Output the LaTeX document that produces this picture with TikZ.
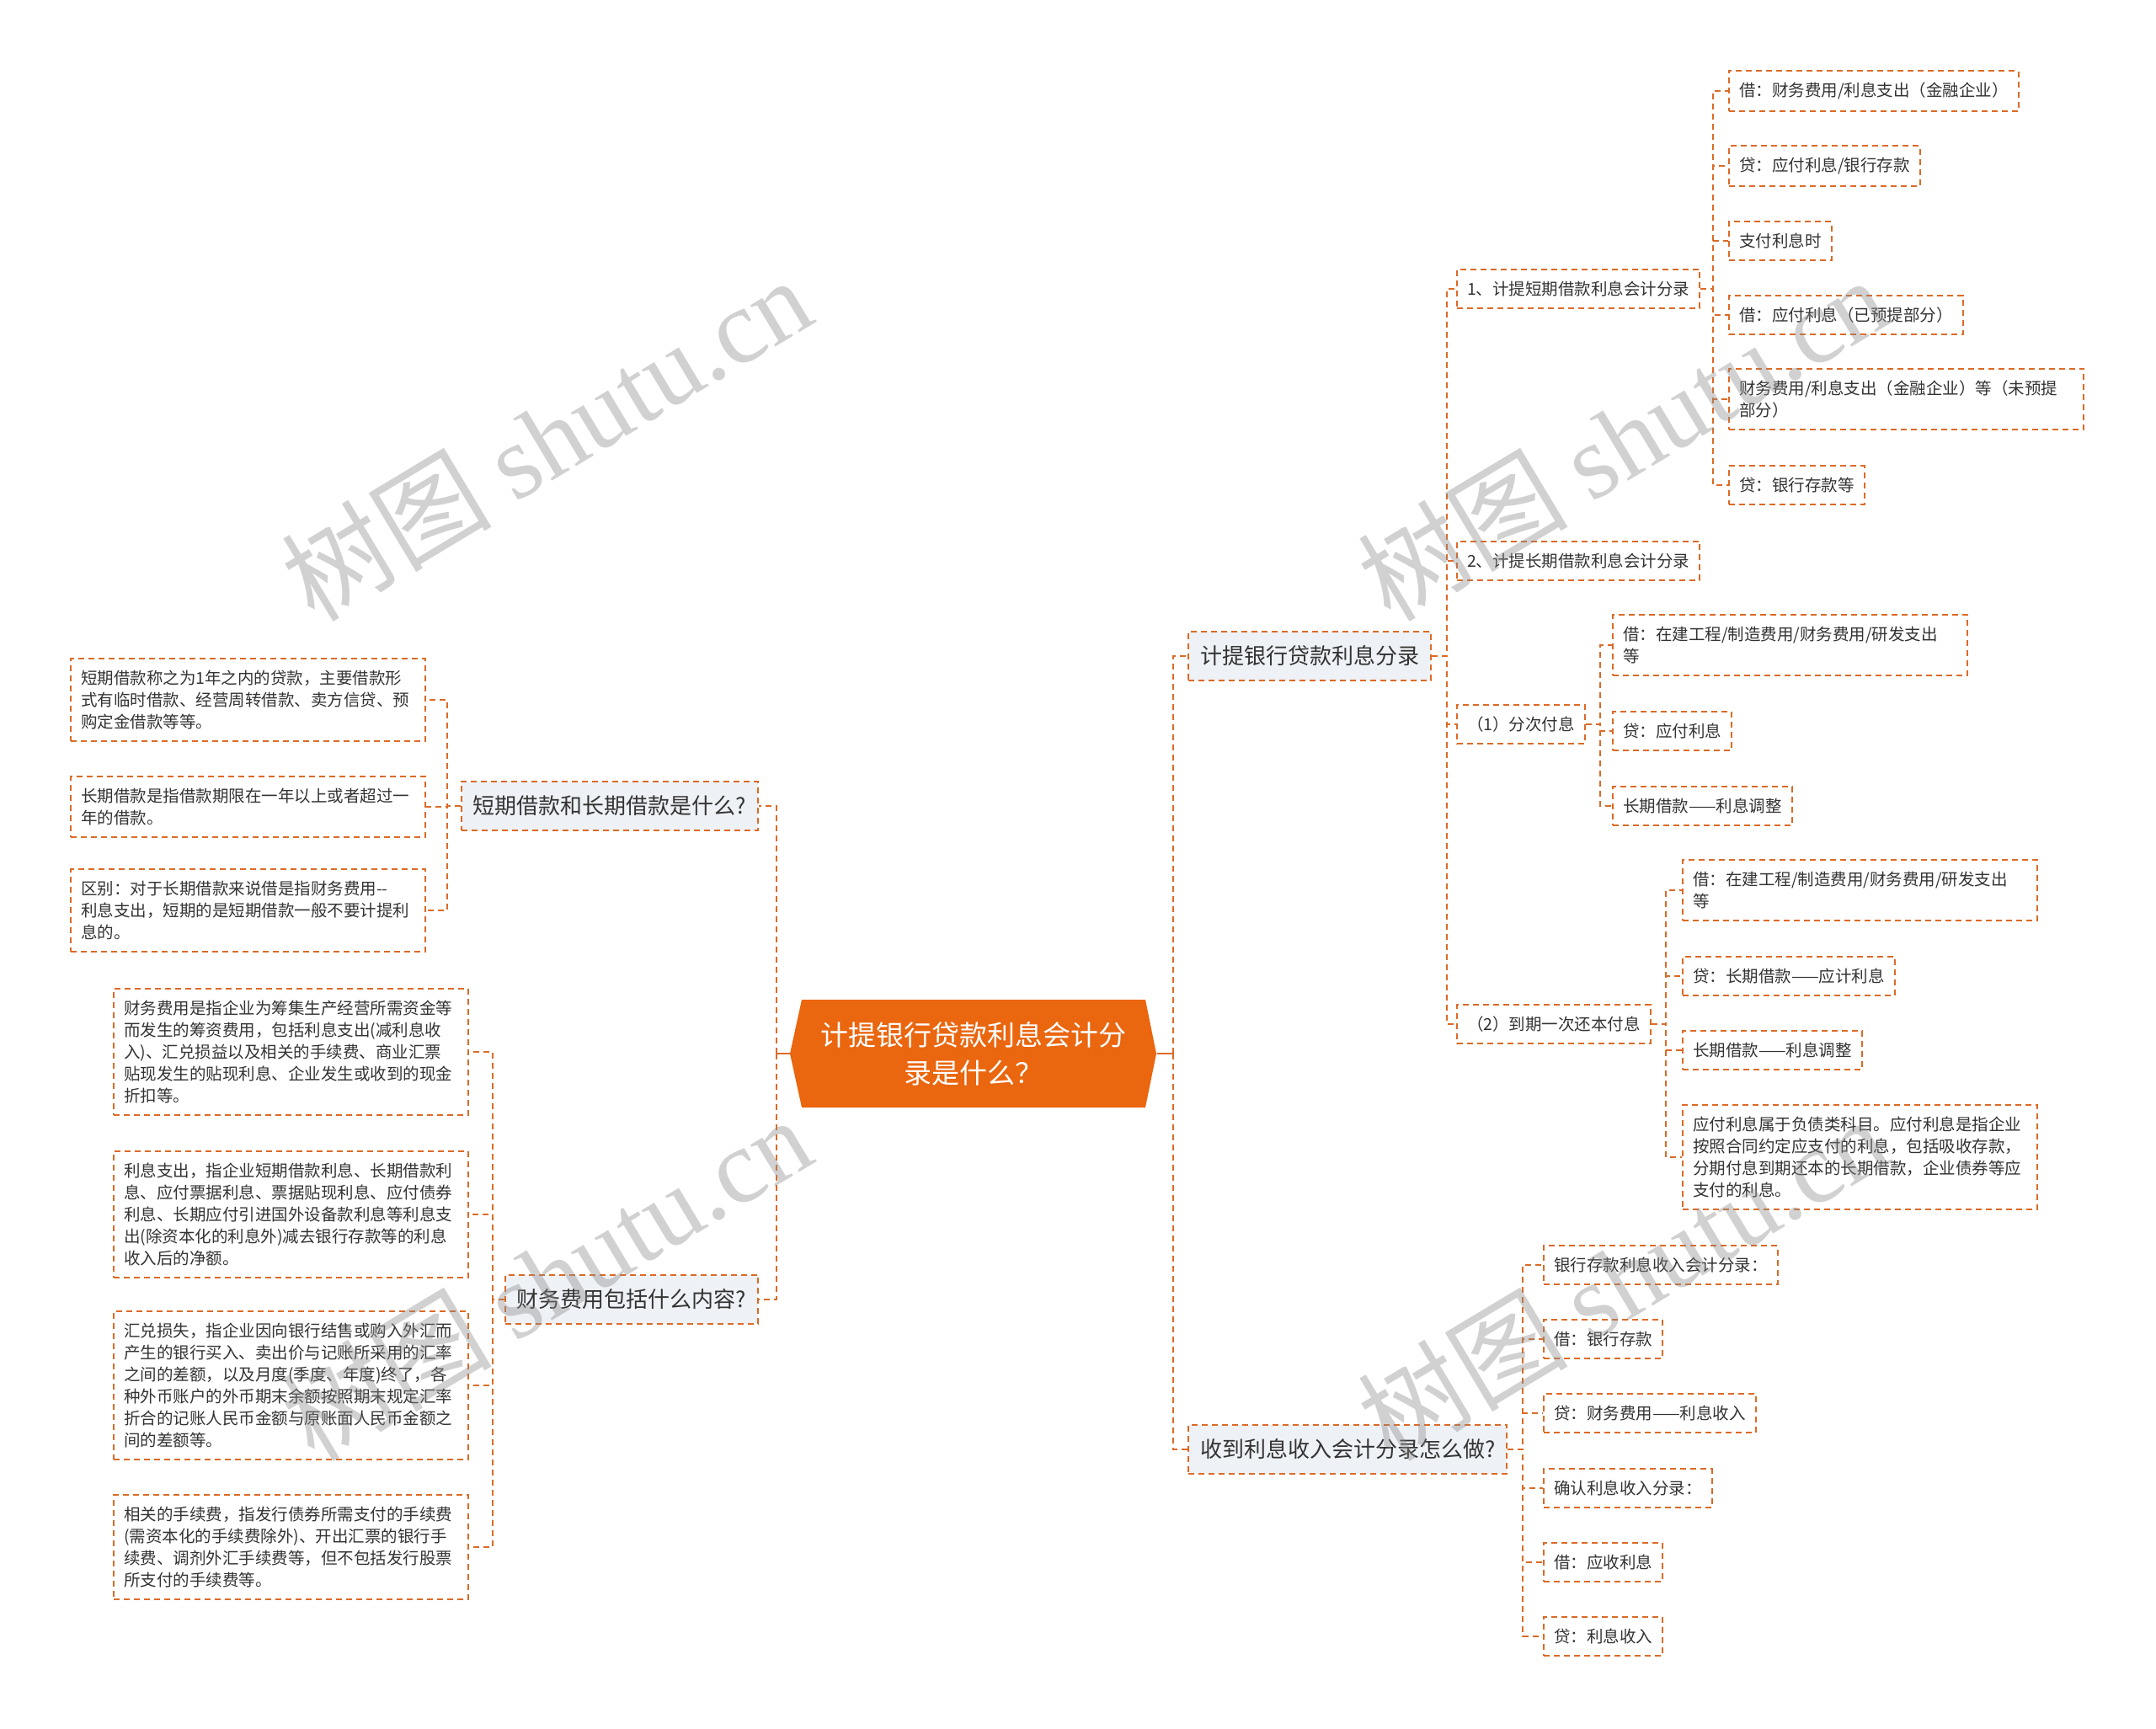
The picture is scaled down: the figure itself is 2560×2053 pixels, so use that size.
\documentclass[tikz,border=0pt]{standalone}
\usepackage{fontspec}
\setmainfont{Noto Sans CJK SC}
\newfontfamily\wmserif{Liberation Serif}

\definecolor{linec}{HTML}{DC6A26}
\definecolor{rootc}{HTML}{EA660F}
\definecolor{topicc}{HTML}{EEF1F5}
\definecolor{textc}{HTML}{333333}

\begin{document}
\begin{tikzpicture}[
  x=1pt, y=-1pt,
  rootbox/.style={rectangle, minimum width=435pt, minimum height=128pt,
              text=white, align=center, font=\fontsize{33}{45}\selectfont},
  topic/.style={rectangle, draw=linec, line width=2pt, dash pattern=on 7pt off 5pt,
              fill=topicc, text=textc, font=\fontsize{26}{30}\selectfont,
              inner xsep=14pt, inner ysep=17pt},
  leaf/.style={rectangle, draw=linec, line width=2pt, dash pattern=on 7pt off 5pt,
              fill=white, text=textc, font=\fontsize{19.5}{26}\selectfont,
              inner xsep=12pt, inner ysep=14pt, align=left},
  wide/.style={leaf, text width=397pt},
  link/.style={draw=linec, line width=2pt, dash pattern=on 7pt off 5pt},
  trunk/.style={draw=linec, line width=2.5pt},
  wmark/.style={rotate=31, text=black!45, opacity=0.4,
              font=\fontsize{125}{125}\selectfont}
]
\useasboundingbox (0,0) rectangle (2560,2053);
\fill[white] (0,0) rectangle (2560,2053);

\fill[rootc] (938,1251) -- (952,1187) -- (1360,1187) -- (1373,1251)
  -- (1360,1315) -- (952,1315) -- cycle;
\node[rootbox] (root) at (1156,1251) {计提银行贷款利息会计分\\录是什么？};

\node[topic, anchor=west] (B1) at (1410,779) {计提银行贷款利息分录};
\node[topic, anchor=west] (B2) at (1410,1721) {收到利息收入会计分录怎么做?};
\node[topic, anchor=east] (L1) at (901,957) {短期借款和长期借款是什么?};
\node[topic, anchor=east] (L2) at (901,1543) {财务费用包括什么内容?};

\node[leaf, anchor=west] (n1) at (1729,343) {1、计提短期借款利息会计分录};
\node[leaf, anchor=west] (n2) at (1729,666) {2、计提长期借款利息会计分录};
\node[leaf, anchor=west] (n3) at (1729,860) {（1）分次付息};
\node[leaf, anchor=west] (n4) at (1729,1216) {（2）到期一次还本付息};

\node[leaf, anchor=west] (r1a) at (2052,108) {借：财务费用/利息支出（金融企业）};
\node[leaf, anchor=west] (r1b) at (2052,197) {贷：应付利息/银行存款};
\node[leaf, anchor=west] (r1c) at (2052,286) {支付利息时};
\node[leaf, anchor=west] (r1d) at (2052,374) {借：应付利息（已预提部分）};
\node[wide, anchor=west] (r1e) at (2052,474) {财务费用/利息支出（金融企业）等（未预提\\部分）};
\node[leaf, anchor=west] (r1f) at (2052,576) {贷：银行存款等};

\node[wide, anchor=west] (n3a) at (1914,766) {借：在建工程/制造费用/财务费用/研发支出\\等};
\node[leaf, anchor=west] (n3b) at (1914,868) {贷：应付利息};
\node[leaf, anchor=west] (n3c) at (1914,957) {长期借款——利息调整};

\node[wide, anchor=west] (n4a) at (1997,1057) {借：在建工程/制造费用/财务费用/研发支出\\等};
\node[leaf, anchor=west] (n4b) at (1997,1159) {贷：长期借款——应计利息};
\node[leaf, anchor=west] (n4c) at (1997,1247) {长期借款——利息调整};
\node[wide, anchor=west] (n4d) at (1997,1374) {应付利息属于负债类科目。应付利息是指企业\\按照合同约定应支付的利息，包括吸收存款，\\分期付息到期还本的长期借款，企业债券等应\\支付的利息。};

\node[leaf, anchor=west] (s1) at (1832,1502) {银行存款利息收入会计分录：};
\node[leaf, anchor=west] (s2) at (1832,1590) {借：银行存款};
\node[leaf, anchor=west] (s3) at (1832,1678) {贷：财务费用——利息收入};
\node[leaf, anchor=west] (s4) at (1832,1767) {确认利息收入分录：};
\node[leaf, anchor=west] (s5) at (1832,1855) {借：应收利息};
\node[leaf, anchor=west] (s6) at (1832,1943) {贷：利息收入};

\node[wide, anchor=east] (L1a) at (506,831) {短期借款称之为1年之内的贷款，主要借款形\\式有临时借款、经营周转借款、卖方信贷、预\\购定金借款等等。};
\node[wide, anchor=east] (L1b) at (506,958) {长期借款是指借款期限在一年以上或者超过一\\年的借款。};
\node[wide, anchor=east] (L1c) at (506,1081) {区别：对于长期借款来说借是指财务费用-{}-\\利息支出，短期的是短期借款一般不要计提利\\息的。};

\node[wide, anchor=east] (L2a) at (557,1249) {财务费用是指企业为筹集生产经营所需资金等\\而发生的筹资费用，包括利息支出(减利息收\\入)、汇兑损益以及相关的手续费、商业汇票\\贴现发生的贴现利息、企业发生或收到的现金\\折扣等。};
\node[wide, anchor=east] (L2b) at (557,1442) {利息支出，指企业短期借款利息、长期借款利\\息、应付票据利息、票据贴现利息、应付债券\\利息、长期应付引进国外设备款利息等利息支\\出(除资本化的利息外)减去银行存款等的利息\\收入后的净额。};
\node[wide, anchor=east] (L2c) at (557,1645) {汇兑损失，指企业因向银行结售或购入外汇而\\产生的银行买入、卖出价与记账所采用的汇率\\之间的差额，以及月度(季度、年度)终了，各\\种外币账户的外币期末余额按照期末规定汇率\\折合的记账人民币金额与原账面人民币金额之\\间的差额等。};
\node[wide, anchor=east] (L2d) at (557,1837) {相关的手续费，指发行债券所需支付的手续费\\(需资本化的手续费除外)、开出汇票的银行手\\续费、调剂外汇手续费等，但不包括发行股票\\所支付的手续费等。};

\draw[trunk] (root.east) -- ++(19,0) coordinate (busR);
\draw[trunk] (root.west) -- ++(-16,0) coordinate (busL);
\draw[link] (busR) |- (B1.west);
\draw[link] (busR) |- (B2.west);
\draw[link] (busL) |- (L1.east);
\draw[link] (busL) |- (L2.east);

\draw[link] (B1.east) -- ++(18,0) |- (n1.west);
\draw[link] (B1.east) -- ++(18,0) |- (n2.west);
\draw[link] (B1.east) -- ++(18,0) |- (n3.west);
\draw[link] (B1.east) -- ++(18,0) |- (n4.west);

\draw[link] (n1.east) -- ++(15,0) |- (r1a.west);
\draw[link] (n1.east) -- ++(15,0) |- (r1b.west);
\draw[link] (n1.east) -- ++(15,0) |- (r1c.west);
\draw[link] (n1.east) -- ++(15,0) |- (r1d.west);
\draw[link] (n1.east) -- ++(15,0) |- (r1e.west);
\draw[link] (n1.east) -- ++(15,0) |- (r1f.west);

\draw[link] (n3.east) -- ++(17,0) |- (n3a.west);
\draw[link] (n3.east) -- ++(17,0) |- (n3b.west);
\draw[link] (n3.east) -- ++(17,0) |- (n3c.west);

\draw[link] (n4.east) -- ++(17,0) |- (n4a.west);
\draw[link] (n4.east) -- ++(17,0) |- (n4b.west);
\draw[link] (n4.east) -- ++(17,0) |- (n4c.west);
\draw[link] (n4.east) -- ++(17,0) |- (n4d.west);

\draw[link] (B2.east) -- ++(18,0) |- (s1.west);
\draw[link] (B2.east) -- ++(18,0) |- (s2.west);
\draw[link] (B2.east) -- ++(18,0) |- (s3.west);
\draw[link] (B2.east) -- ++(18,0) |- (s4.west);
\draw[link] (B2.east) -- ++(18,0) |- (s5.west);
\draw[link] (B2.east) -- ++(18,0) |- (s6.west);

\draw[link] (L1.west) -- ++(-16,0) |- (L1a.east);
\draw[link] (L1.west) -- ++(-16,0) |- (L1b.east);
\draw[link] (L1.west) -- ++(-16,0) |- (L1c.east);

\draw[link] (L2.west) -- ++(-14,0) |- (L2a.east);
\draw[link] (L2.west) -- ++(-14,0) |- (L2b.east);
\draw[link] (L2.west) -- ++(-14,0) |- (L2c.east);
\draw[link] (L2.west) -- ++(-14,0) |- (L2d.east);

\node[wmark] (wm1) at (648,520) {树图 {\wmserif shutu.cn}};
\node[wmark] (wm2) at (1926,520) {树图 {\wmserif shutu.cn}};
\node[wmark] (wm3) at (648,1517) {树图 {\wmserif shutu.cn}};
\node[wmark] (wm4) at (1926,1517) {树图 {\wmserif shutu.cn}};
\end{tikzpicture}
\end{document}
